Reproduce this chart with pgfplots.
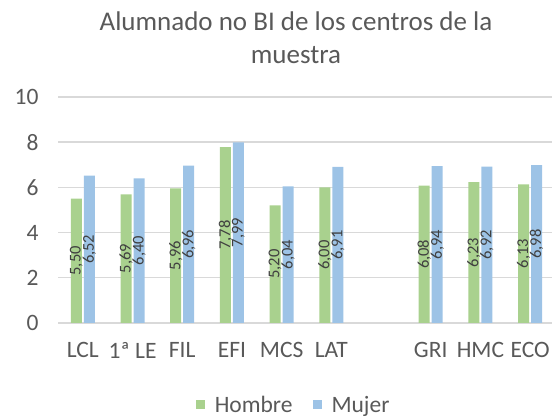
\documentclass[border=0pt]{standalone}
\usepackage{pgfplots}
\pgfplotsset{compat=1.18}
\usepackage{fontspec}
\setmainfont{Carlito}
\definecolor{hombre}{HTML}{A9D18E}
\definecolor{mujer}{HTML}{9DC3E6}
\definecolor{txt}{HTML}{595959}
\definecolor{lbl}{HTML}{404040}
\definecolor{gridc}{HTML}{D9D9D9}
\begin{document}
\begin{tikzpicture}[x=1pt,y=1pt]
\useasboundingbox (0,0) rectangle (552,417);
\node[text=txt, font=\fontsize{27}{33}\selectfont, align=center] at (296,379) {Alumnado no BI de los centros de la\\muestra};
\begin{axis}[
  at={(58pt,94pt)}, anchor=south west,
  scale only axis, width=494pt, height=226pt,
  xmin=-0.5, xmax=9.44, ymin=0, ymax=10,
  ytick={0,2,...,10},
  xtick={0,1,2,3,4,5,7,8,9},
  xticklabels={LCL,1ª LE,FIL,EFI,MCS,LAT,GRI,HMC,ECO},
  separate axis lines,
  axis line style={draw=none},
  every outer x axis line/.append style={draw=none},
  every outer y axis line/.append style={draw=none},
  major tick length=0,
  ymajorgrids, grid style={draw=gridc, line width=1.4pt},
  tick label style={text=txt, font=\fontsize{23.5}{26}\selectfont},
  yticklabel style={xshift=-16pt},
  xticklabel style={yshift=-16pt},
  /pgf/number format/assume math mode=true,
  ybar, bar width=11pt,
  visualization depends on={y \as \rawy},
  nodes near coords={\pgfmathprintnumber[use comma,fixed,fixed zerofill,precision=2]{\pgfplotspointmeta}},
  nodes near coords style={shift={(axis direction cs:0,-\rawy/2)}, rotate=90, anchor=center, text=lbl, font=\fontsize{16.5}{18}\selectfont, inner sep=0pt},
  legend style={at={(0.477,-0.362)}, anchor=center, draw=none, fill=none, legend columns=2, font=\fontsize{23.5}{26}\selectfont, text=txt,
    /tikz/every even column/.append style={column sep=18pt},
    /tikz/every odd column/.append style={column sep=8pt}},
  legend image code/.code={\fill[#1, draw=none] (0pt,-4.5pt) rectangle (9pt,4.5pt);},
]
\addplot[fill=hombre, draw=none, bar shift=-6.5pt, point meta=y] coordinates {(0,5.50) (1,5.69) (2,5.96) (3,7.78) (4,5.20) (5,6.00) (7,6.08) (8,6.23) (9,6.13)};
\addplot[fill=mujer, draw=none, bar shift=6.5pt, point meta=y] coordinates {(0,6.52) (1,6.40) (2,6.96) (3,7.99) (4,6.04) (5,6.91) (7,6.94) (8,6.92) (9,6.98)};
\legend{Hombre, Mujer}
\end{axis}
\end{tikzpicture}
\end{document}
